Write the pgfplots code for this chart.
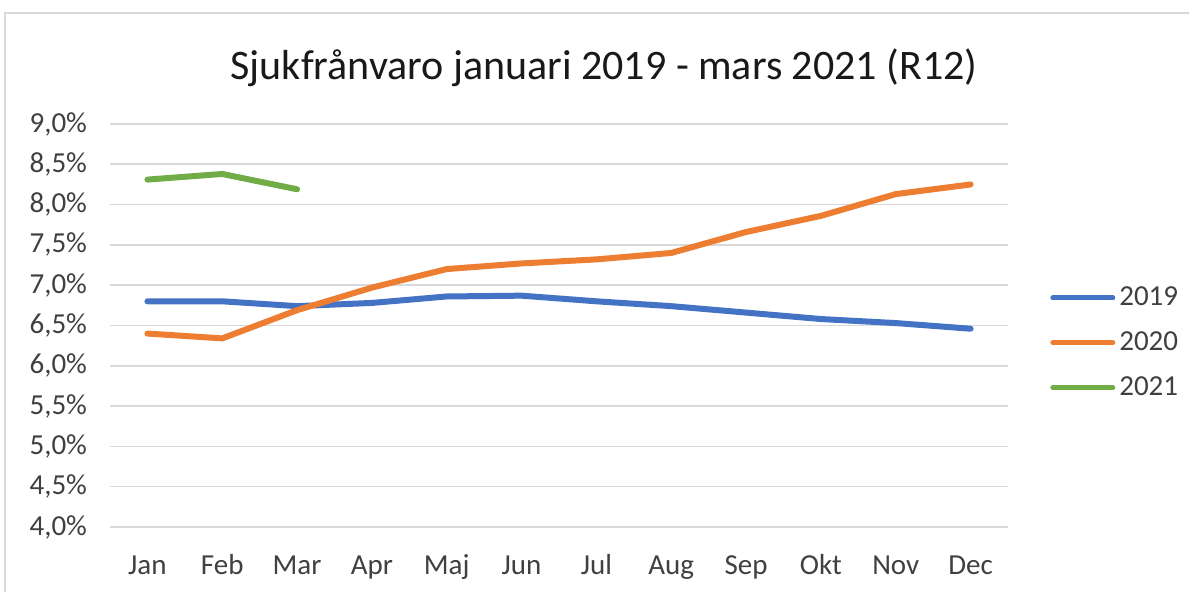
\documentclass[border=0pt]{standalone}
\usepackage{fontspec}
\setmainfont{Carlito}
\usepackage{pgfplots}
\pgfplotsset{compat=1.18}
\definecolor{c19}{HTML}{4472C4}
\definecolor{c20}{HTML}{ED7D31}
\definecolor{c21}{HTML}{70AD47}
\definecolor{tick}{HTML}{404040}
\definecolor{grid}{HTML}{D9D9D9}
\begin{document}
\begin{tikzpicture}
\clip (0pt,0pt) rectangle (594.5pt,296pt);
\fill[white] (0pt,0pt) rectangle (594.5pt,296pt);
\draw[line width=0.8pt, color=grid] (2.5pt,-5pt) rectangle (600pt,289.5pt);
\node[font=\fontsize{21}{24}\selectfont, text=black!90] at (302pt,262pt) {Sjukfrånvaro januari 2019 - mars 2021 (R12)};
\begin{axis}[
  at={(55pt,32.5pt)}, anchor=south west,
  scale only axis, width=449pt, height=201.5pt,
  xmin=-0.5, xmax=11.5, ymin=4, ymax=9,
  xtick={0,...,11},
  xticklabels={Jan,Feb,Mar,Apr,Maj,Jun,Jul,Aug,Sep,Okt,Nov,Dec},
  ytick={4,4.5,...,9},
  /pgf/number format/assume math mode=true,
  yticklabel={\pgfmathprintnumber[fixed,fixed zerofill,precision=1,use comma]{\tick}\%},
  ticklabel style={font=\fontsize{14.5}{16}\selectfont, text=tick},
  yticklabel style={xshift=-8pt},
  xticklabel style={yshift=-10pt, text height=10pt, text depth=3pt},
  axis line style={draw=none},
  major tick length=0pt,
  ymajorgrids, grid style={color=grid, line width=0.8pt},
  legend style={at={(1.04,0.457)}, anchor=west, draw=none, fill=none,
    font=\fontsize{14.5}{16}\selectfont, text=tick, row sep=7.5pt,
    /tikz/every even column/.append style={column sep=0pt}},
  legend cell align=left,
  legend image code/.code={\draw[#1, line width=2.5pt] (0pt,0pt) -- (30pt,0pt);},
  every axis plot/.append style={line width=3pt, line join=round, line cap=round},
]
\addplot[c19] coordinates {(0,6.80) (1,6.80) (2,6.74) (3,6.78) (4,6.86) (5,6.87) (6,6.80) (7,6.74) (8,6.66) (9,6.58) (10,6.53) (11,6.46)};
\addlegendentry{2019}
\addplot[c20] coordinates {(0,6.40) (1,6.34) (2,6.69) (3,6.97) (4,7.20) (5,7.27) (6,7.32) (7,7.40) (8,7.66) (9,7.86) (10,8.13) (11,8.25)};
\addlegendentry{2020}
\addplot[c21] coordinates {(0,8.31) (1,8.38) (2,8.19)};
\addlegendentry{2021}
\end{axis}
\end{tikzpicture}
\end{document}
